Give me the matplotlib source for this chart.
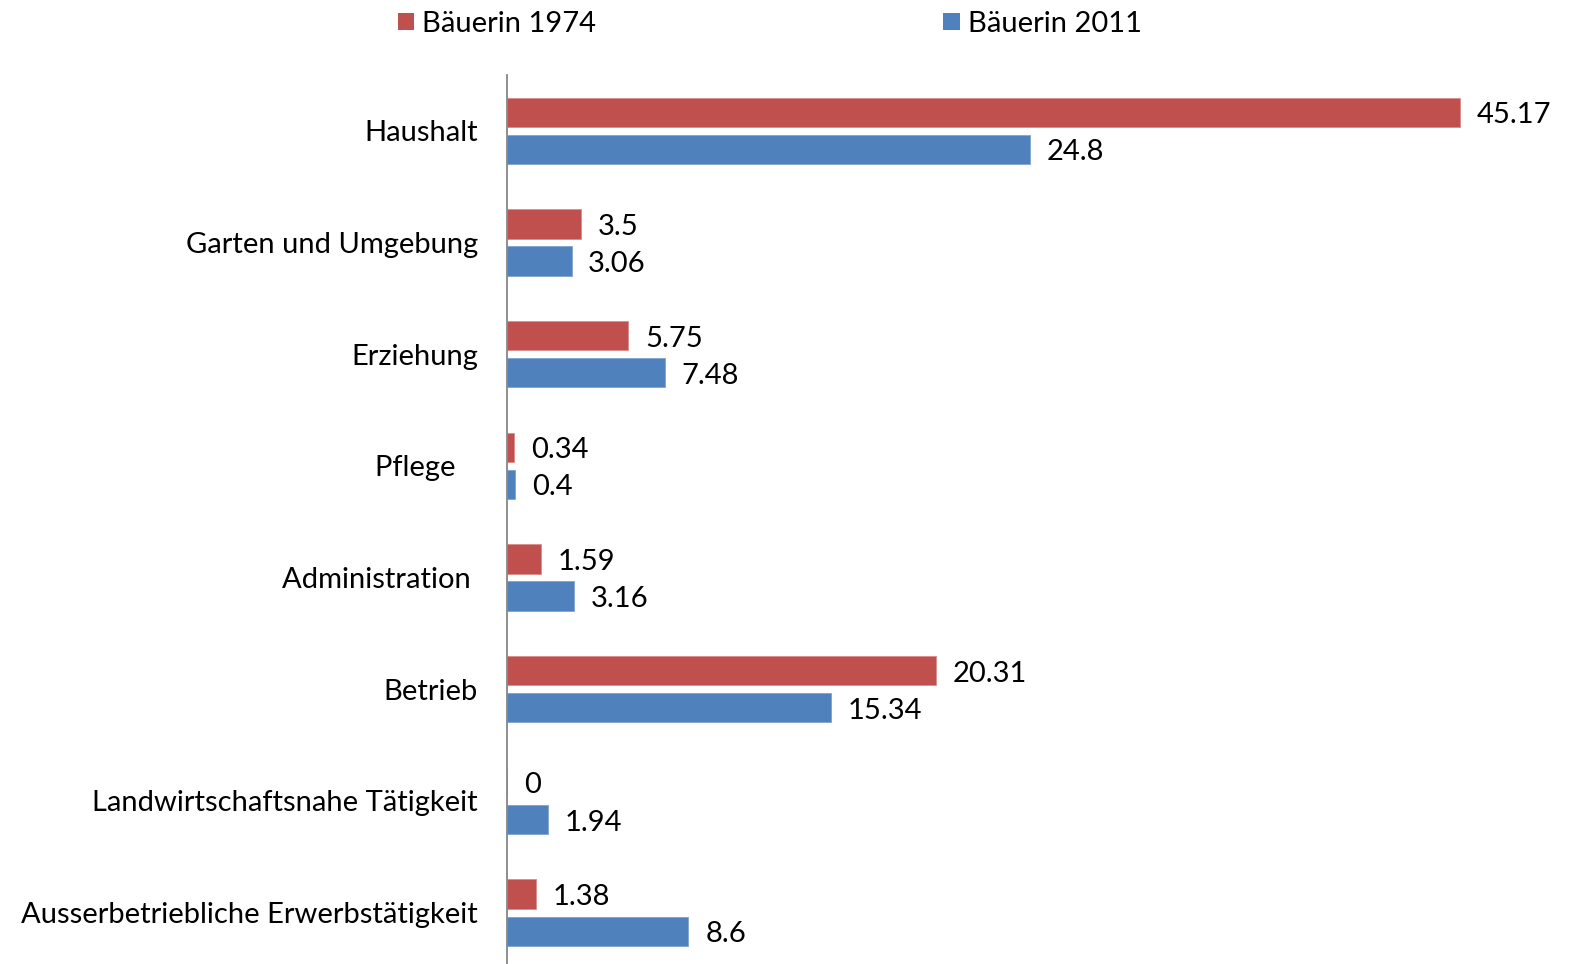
import matplotlib.pyplot as plt
from matplotlib.patches import Patch

plt.rcParams['font.family'] = ['Lato', 'DejaVu Sans']

categories = ["Haushalt", "Garten und Umgebung", "Erziehung", "Pflege   ",
              "Administration ", "Betrieb", "Landwirtschaftsnahe Tätigkeit",
              "Ausserbetriebliche Erwerbstätigkeit"]
v1974 = [45.17, 3.5, 5.75, 0.34, 1.59, 20.31, 0, 1.38]
v2011 = [24.8, 3.06, 7.48, 0.4, 3.16, 15.34, 1.94, 8.6]
labels1974 = ["45.17", "3.5", "5.75", "0.34", "1.59", "20.31", "0", "1.38"]
labels2011 = ["24.8", "3.06", "7.48", "0.4", "3.16", "15.34", "1.94", "8.6"]

red = "#C0504D"
blue = "#4F81BD"
fs = 21

fig = plt.figure(figsize=(15.7, 9.64), dpi=100)
ax = fig.add_axes([507/1570, 0, 1055/1570, 889/964])

pos = list(range(len(categories)))
off = 0.166
h = 0.262
ax.barh([p - off for p in pos], v1974, height=h, color=red, edgecolor="#D98C8A", linewidth=0.6)
ax.barh([p + off for p in pos], v2011, height=h, color=blue, edgecolor="#7FA3D0", linewidth=0.6)

for p, v, t in zip(pos, v1974, labels1974):
    ax.annotate(t, (v, p - off), xytext=(12, -2.2), textcoords="offset points",
                ha="left", va="center", fontsize=fs)
for p, v, t in zip(pos, v2011, labels2011):
    ax.annotate(t, (v, p + off), xytext=(12, -2.2), textcoords="offset points",
                ha="left", va="center", fontsize=fs)

ax.set_xlim(0, 50)
ax.set_ylim(7.46, -0.5)
ax.set_yticks(pos)
ax.set_yticklabels(categories, fontsize=fs)
ax.tick_params(axis="y", length=0, pad=21)
ax.set_xticks([])
for s in ["top", "right", "bottom"]:
    ax.spines[s].set_visible(False)
ax.spines["left"].set_color("#868686")
ax.spines["left"].set_linewidth(1.3)

handles = [Patch(facecolor=red, label="Bäuerin 1974"),
           Patch(facecolor=blue, label="Bäuerin 2011")]
fig.legend(handles=handles, loc="upper left", bbox_to_anchor=(383/1570, 1.004),
           ncol=2, frameon=False, fontsize=fs, handlelength=0.56, handleheight=0.56,
           handletextpad=0.28, columnspacing=11.9, borderaxespad=0.1)

fig.savefig("out.png", dpi=100)
